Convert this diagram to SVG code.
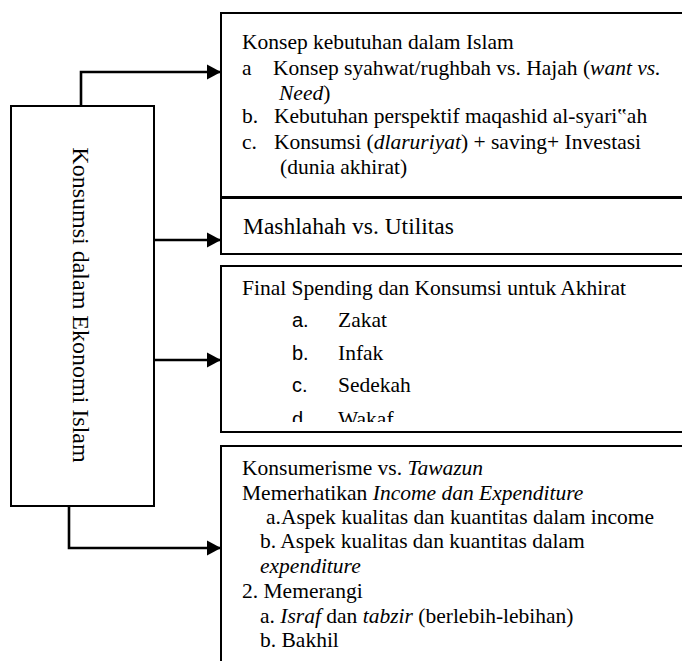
<svg xmlns="http://www.w3.org/2000/svg" width="682" height="661" viewBox="0 0 682 661">
<style>
.box{fill:#fff;stroke:#000;stroke-width:2}
.con{fill:none;stroke:#000;stroke-width:2.6}
text{font-family:"Liberation Serif","Times New Roman",serif;font-size:21.5px;fill:#000}
.it{font-style:italic}
.sans{font-family:"Liberation Sans","Open Sans",Arial,sans-serif;font-size:20px}
.big{font-size:23.5px}
</style>
<defs>
<marker id="arr" markerUnits="userSpaceOnUse" markerWidth="16" markerHeight="16" refX="14" refY="8" orient="auto">
<path d="M0,0.5 L14,8 L0,15.5 Z" fill="#000"/>
</marker>
<clipPath id="clipd"><rect x="222" y="266" width="470" height="156"/></clipPath>
</defs>
<rect width="682" height="661" fill="#fff"/>
<g id="konsumsi">
<rect class="box" x="11" y="106" width="143" height="400"/>
<text transform="translate(73,305) rotate(90)" text-anchor="middle" font-size="24" style="font-size:24px">Konsumsi dalam Ekonomi Islam</text>
</g>
<g id="kebutuhan">
<rect class="box" x="221" y="13" width="480" height="184"/>
<text x="242" y="49">Konsep kebutuhan dalam Islam</text>
<text x="242" y="75">a</text>
<text x="273" y="75">Konsep syahwat/rughbah vs. Hajah (<tspan class="it">want vs.</tspan></text>
<text x="279" y="100"><tspan class="it">Need</tspan>)</text>
<text x="242" y="123">b.</text>
<text x="274" y="123">Kebutuhan perspektif maqashid al-syari‟ah</text>
<text x="242" y="149">c.</text>
<text x="274" y="149">Konsumsi (<tspan class="it">dlaruriyat</tspan>) + saving+ Investasi</text>
<text x="280" y="174">(dunia akhirat)</text>
</g>
<g id="mashlahah">
<rect class="box" x="221" y="198" width="480" height="56"/>
<text class="big" x="243" y="234">Mashlahah vs. Utilitas</text>
</g>
<g id="final-spending">
<rect class="box" x="221" y="266" width="480" height="166"/>
<text x="242" y="295">Final Spending dan Konsumsi untuk Akhirat</text>
<g clip-path="url(#clipd)">
<text class="sans" x="292" y="327">a.</text>
<text x="338" y="327">Zakat</text>
<text class="sans" x="292" y="360">b.</text>
<text x="338" y="360">Infak</text>
<text class="sans" x="292" y="392">c.</text>
<text x="338" y="392">Sedekah</text>
<text class="sans" x="292" y="426">d.</text>
<text x="338" y="426">Wakaf</text>
</g>
</g>
<g id="konsumerisme">
<rect class="box" x="221" y="446" width="480" height="230"/>
<text x="242" y="475">Konsumerisme vs. <tspan class="it">Tawazun</tspan></text>
<text x="242" y="500">Memerhatikan <tspan class="it">Income dan Expenditure</tspan></text>
<text x="266" y="524">a.Aspek kualitas dan kuantitas dalam income</text>
<text x="260" y="548">b. Aspek kualitas dan kuantitas dalam</text>
<text class="it" x="260" y="573">expenditure</text>
<text x="242" y="598">2. Memerangi</text>
<text x="260" y="623">a. <tspan class="it">Israf</tspan> dan <tspan class="it">tabzir</tspan> (berlebih-lebihan)</text>
<text x="260" y="647">b. Bakhil</text>
</g>
<g id="connectors">
<path class="con" d="M81,106 V72 H221" marker-end="url(#arr)"/>
<path class="con" d="M154,240 H221" marker-end="url(#arr)"/>
<path class="con" d="M154,360 H221" marker-end="url(#arr)"/>
<path class="con" d="M69,506 V548 H221" marker-end="url(#arr)"/>
</g>
</svg>
